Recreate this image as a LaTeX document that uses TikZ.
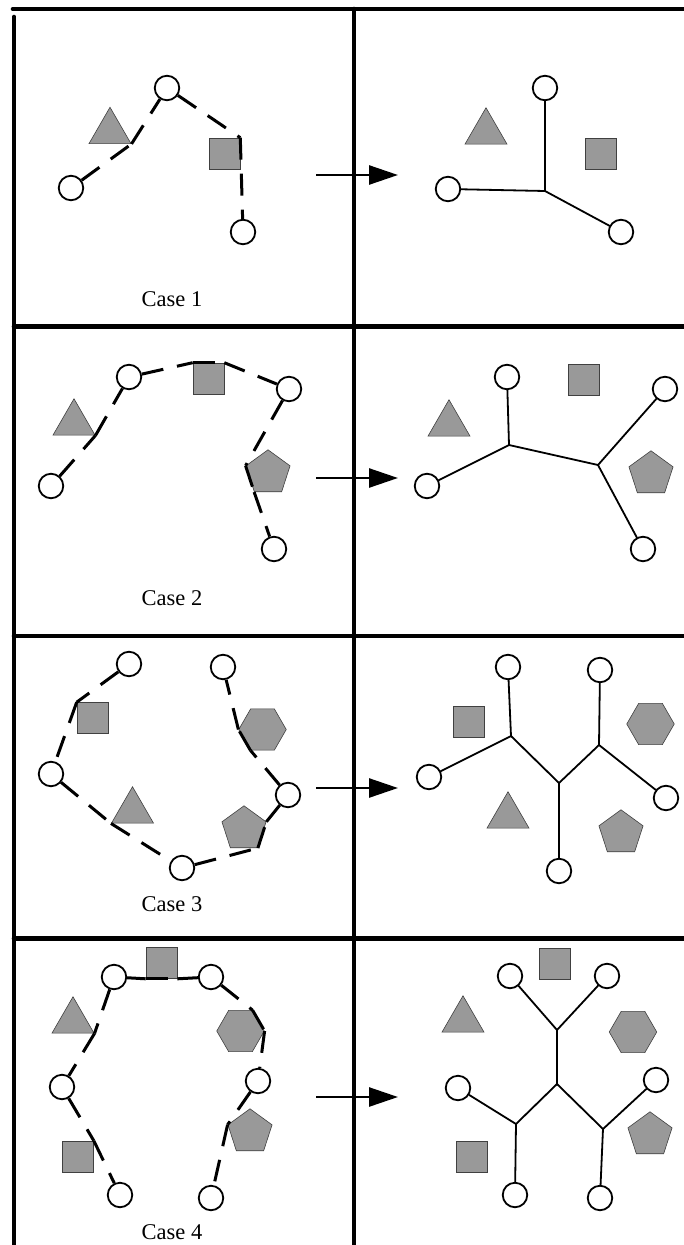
\documentclass[tikz,border=0pt]{standalone}
\usepackage{fontspec}
\setmainfont{Liberation Serif}
\usetikzlibrary{shapes.geometric,arrows.meta}
\definecolor{shapegray}{RGB}{153,153,153}
\begin{document}
\begin{tikzpicture}[x=1pt,y=-1pt,
  frame/.style={line width=4.6pt,line cap=round},
  site/.style={circle,draw,fill=white,line width=1.8pt,minimum size=24.5pt,inner sep=0pt},
  obst/.style={draw=black!75,fill=shapegray,line width=0.6pt,inner sep=0pt},
  sqshape/.style={obst,rectangle,minimum size=31pt},
  trishape/.style={obst,regular polygon,regular polygon sides=3,minimum size=48.5pt},
  pentshape/.style={obst,regular polygon,regular polygon sides=5,minimum size=46.4pt},
  hexshape/.style={obst,regular polygon,regular polygon sides=6,minimum size=47.5pt},
  dashedge/.style={line width=3pt,dash pattern=on 22pt off 14pt},
  treeedge/.style={line width=1.8pt,line cap=round},
  steparrow/.style={line width=2.6pt,-{Triangle[length=29pt,width=19pt]}},
  caselabel/.style={font=\fontsize{22.5}{27}\selectfont,inner sep=0pt}
]
\useasboundingbox (0,0) rectangle (684,1245);

% ---------- frame ----------
\coordinate (ftl) at (13,9);   \coordinate (ftr) at (684,9);
\coordinate (flt) at (14,17);  \coordinate (flb) at (14,1245);
\coordinate (fmt) at (354,9);  \coordinate (fmb) at (354,1245);
\coordinate (h1l) at (14,326.5); \coordinate (h1r) at (684,326.5);
\coordinate (h2l) at (14,636);   \coordinate (h2r) at (684,636);
\coordinate (h3l) at (14,938.5); \coordinate (h3r) at (684,938.5);
\draw[frame] (ftl) -- (ftr);
\draw[frame] (flt) -- (flb);
\draw[frame] (fmt) -- (fmb);
\draw[frame] (h1l) -- (h1r);
\draw[frame] (h2l) -- (h2r);
\draw[frame] (h3l) -- (h3r);

% ---------- arrows ----------
\coordinate (a1s) at (316,175);    \coordinate (a1e) at (398,175);
\coordinate (a2s) at (316,478);    \coordinate (a2e) at (398,478);
\coordinate (a3s) at (316,788);    \coordinate (a3e) at (398,788);
\coordinate (a4s) at (316,1097);   \coordinate (a4e) at (398,1097);
\draw[steparrow] (a1s) -- (a1e);
\draw[steparrow] (a2s) -- (a2e);
\draw[steparrow] (a3s) -- (a3e);
\draw[steparrow] (a4s) -- (a4e);

% ================= Case 1 =================
\node[trishape] (c1tri) at (110,131.5) {};
\node[sqshape] (c1sq) at (224.5,153.5) {};
\node[site] (c1top) at (167,88) {};
\node[site] (c1left) at (71,188) {};
\node[site] (c1bot) at (243,232) {};
\draw[dashedge] (c1left) -- (c1tri.330);
\draw[dashedge] (c1tri.330) -- (c1top);
\draw[dashedge] (c1top) -- (c1sq.north east);
\draw[dashedge] (c1sq.north east) -- (c1bot);
\node[caselabel] (l1) at (172,299) {Case 1};

\node[trishape] (d1tri) at (486,132) {};
\node[sqshape] (d1sq) at (600.5,154) {};
\node[site] (d1top) at (545,88) {};
\node[site] (d1left) at (448,189) {};
\node[site] (d1br) at (621,232) {};
\coordinate (d1j) at (545,191);
\draw[treeedge] (d1top) -- (d1j);
\draw[treeedge] (d1left) -- (d1j);
\draw[treeedge] (d1br) -- (d1j);

% ================= Case 2 =================
\node[trishape] (c2tri) at (74,423) {};
\node[sqshape] (c2sq) at (208.5,378.5) {};
\node[pentshape] (c2pent) at (268,473) {};
\node[site] (c2a) at (51,486) {};
\node[site] (c2b) at (129,377) {};
\node[site] (c2c) at (289,389) {};
\node[site] (c2d) at (274,549) {};
\draw[dashedge] (c2a) -- (c2tri.330);
\draw[dashedge] (c2tri.330) -- (c2b);
\draw[dashedge] (c2b) -- (c2sq.north west);
\draw[dashedge] (c2sq.north west) -- (c2sq.north east);
\draw[dashedge] (c2sq.north east) -- (c2c);
\draw[dashedge] (c2c) -- (c2pent.162);
\draw[dashedge] (c2pent.162) -- (c2pent.234);
\draw[dashedge] (c2pent.234) -- (c2d);
\node[caselabel] (l2) at (172,598) {Case 2};

\node[trishape] (d2tri) at (449,424) {};
\node[sqshape] (d2sq) at (583.5,379.5) {};
\node[pentshape] (d2pent) at (651,474) {};
\node[site] (d2top) at (507,377) {};
\node[site] (d2left) at (427,486) {};
\node[site] (d2rt) at (665,389) {};
\node[site] (d2bot) at (643,549) {};
\coordinate (d2j1) at (509,445);
\coordinate (d2j2) at (598,465);
\draw[treeedge] (d2top) -- (d2j1);
\draw[treeedge] (d2left) -- (d2j1);
\draw[treeedge] (d2j1) -- (d2j2);
\draw[treeedge] (d2rt) -- (d2j2);
\draw[treeedge] (d2bot) -- (d2j2);

% ================= Case 3 =================
\node[sqshape] (c3sq) at (92.5,718) {};
\node[hexshape] (c3hex) at (262.5,729.5) {};
\node[trishape] (c3tri) at (132.5,811) {};
\node[pentshape] (c3pent) at (244,829) {};
\node[site] (c3a) at (129,664) {};
\node[site] (c3b) at (223,667) {};
\node[site] (c3c) at (51,774) {};
\node[site] (c3d) at (288,795) {};
\node[site] (c3e) at (182,868) {};
\draw[dashedge] (c3a) -- (c3sq.north west);
\draw[dashedge] (c3sq.north west) -- (c3c);
\draw[dashedge] (c3c) -- (c3tri.210);
\draw[dashedge] (c3tri.210) -- (c3e);
\draw[dashedge] (c3e) -- (c3pent.306);
\draw[dashedge] (c3pent.306) -- (c3pent.18);
\draw[dashedge] (c3pent.18) -- (c3d);
\draw[dashedge] (c3d) -- (c3hex.240);
\draw[dashedge] (c3hex.240) -- (c3hex.180);
\draw[dashedge] (c3hex.180) -- (c3b);
\node[caselabel] (l3) at (172,904) {Case 3};

\node[sqshape] (d3sq) at (468.5,721.5) {};
\node[hexshape] (d3hex) at (650.5,724) {};
\node[trishape] (d3tri) at (508,816) {};
\node[pentshape] (d3pent) at (621,833) {};
\node[site] (d3tl) at (508,667) {};
\node[site] (d3tr) at (600,670) {};
\node[site] (d3left) at (429,777) {};
\node[site] (d3right) at (666,798) {};
\node[site] (d3bot) at (559,871) {};
\coordinate (d3j1) at (511,736);
\coordinate (d3j2) at (559,783);
\coordinate (d3j3) at (599,745);
\draw[treeedge] (d3tl) -- (d3j1);
\draw[treeedge] (d3left) -- (d3j1);
\draw[treeedge] (d3j1) -- (d3j2);
\draw[treeedge] (d3bot) -- (d3j2);
\draw[treeedge] (d3j2) -- (d3j3);
\draw[treeedge] (d3tr) -- (d3j3);
\draw[treeedge] (d3right) -- (d3j3);

% ================= Case 4 =================
\node[sqshape] (c4sqt) at (161.5,963) {};
\node[sqshape] (c4sqb) at (78,1156.5) {};
\node[trishape] (c4tri) at (73,1021) {};
\node[hexshape] (c4hex) at (240.5,1031) {};
\node[pentshape] (c4pent) at (250,1132) {};
\node[site] (c4a) at (114,977) {};
\node[site] (c4b) at (211,977) {};
\node[site] (c4c) at (258,1081) {};
\node[site] (c4d) at (211,1198) {};
\node[site] (c4e) at (120,1195) {};
\node[site] (c4f) at (62,1087) {};
\draw[dashedge] (c4a) -- (c4sqt.south west);
\draw[dashedge] (c4sqt.south west) -- (c4sqt.south east);
\draw[dashedge] (c4sqt.south east) -- (c4b);
\draw[dashedge] (c4b) -- (c4hex.60);
\draw[dashedge] (c4hex.60) -- (c4hex.0);
\draw[dashedge] (c4hex.0) -- (c4c);
\draw[dashedge] (c4c) -- (c4pent.162);
\draw[dashedge] (c4pent.162) -- (c4d);
\draw[dashedge] (c4a) -- (c4tri.330);
\draw[dashedge] (c4tri.330) -- (c4f);
\draw[dashedge] (c4f) -- (c4sqb.north east);
\draw[dashedge] (c4sqb.north east) -- (c4e);
\node[caselabel] (l4) at (172,1232.5) {Case 4};

\node[sqshape] (d4sqt) at (555,963.5) {};
\node[sqshape] (d4sqb) at (471.5,1156.5) {};
\node[trishape] (d4tri) at (463,1020) {};
\node[hexshape] (d4hex) at (633,1032) {};
\node[pentshape] (d4pent) at (650,1135) {};
\node[site] (d4tl) at (510,976) {};
\node[site] (d4tr) at (607,976) {};
\node[site] (d4left) at (458,1088) {};
\node[site] (d4right) at (656,1080) {};
\node[site] (d4bl) at (515,1195) {};
\node[site] (d4br) at (600,1198) {};
\coordinate (d4jt) at (557,1030);
\coordinate (d4jc) at (557,1084);
\coordinate (d4jl) at (516,1124);
\coordinate (d4jr) at (603,1129);
\draw[treeedge] (d4tl) -- (d4jt);
\draw[treeedge] (d4tr) -- (d4jt);
\draw[treeedge] (d4jt) -- (d4jc);
\draw[treeedge] (d4jc) -- (d4jl);
\draw[treeedge] (d4jc) -- (d4jr);
\draw[treeedge] (d4left) -- (d4jl);
\draw[treeedge] (d4bl) -- (d4jl);
\draw[treeedge] (d4right) -- (d4jr);
\draw[treeedge] (d4br) -- (d4jr);
\end{tikzpicture}
\end{document}
